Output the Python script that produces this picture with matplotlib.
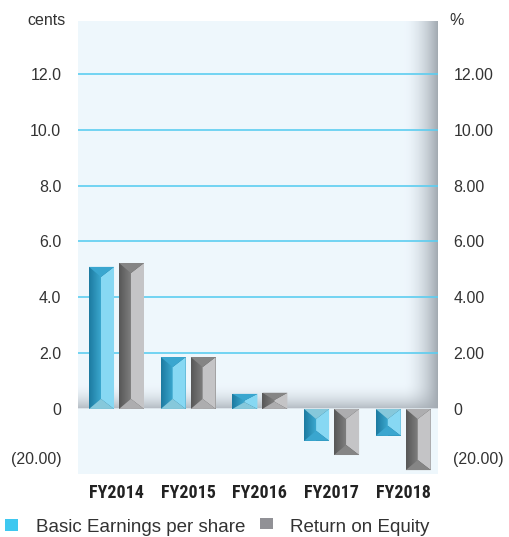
import numpy as np
import matplotlib
matplotlib.use("Agg")
import matplotlib.pyplot as plt
from matplotlib.patches import Polygon, Rectangle
from matplotlib import font_manager

years = ["FY2014", "FY2015", "FY2016", "FY2017", "FY2018"]
eps = [5.09, 1.86, 0.54, -1.14, -0.96]
roe = [5.23, 1.86, 0.58, -1.65, -2.19]
left_ticks = [-1.76, 0, 2, 4, 6, 8, 10, 12]
left_labels = ["(20.00)", "0", "2.0", "4.0", "6.0", "8.0", "10.0", "12.0"]
right_labels = ["(20.00)", "0", "2.00", "4.00", "6.00", "8.00", "10.00", "12.00"]
series_names = ["Basic Earnings per share", "Return on Equity"]


def pick_font(names):
    for n in names:
        try:
            font_manager.findfont(n, fallback_to_default=False)
            return n
        except ValueError:
            pass
    return "DejaVu Sans"


base_font = pick_font(["Liberation Sans", "Roboto"])
narrow_font = pick_font(["Liberation Sans Narrow", "Roboto Condensed", "Liberation Sans"])
plt.rcParams["font.family"] = [base_font, "DejaVu Sans"]

W, H = 510, 537
fig = plt.figure(figsize=(W / 100, H / 100), dpi=100)
ax = fig.add_axes([78 / W, 63 / H, 360 / W, 453 / H])
xmin, xmax, ymin, ymax = -0.537, 4.484, -2.33, 13.9
ax.set_xlim(xmin, xmax)
ax.set_ylim(ymin, ymax)

# panel background with floor and right wall shading
panel = np.array([0.937, 0.969, 0.992])
shade = np.array([0.64, 0.67, 0.70])
ny, nx = 400, 400
ys = np.linspace(ymax, ymin, ny)[:, None]
xs = np.linspace(xmin, xmax, nx)[None, :]
floor = np.clip(1 - ys / 0.95, 0, 1) ** 2 * 0.8
floor = np.where(ys >= 0, floor, 0)
wall = np.clip((xs - 4.0) / (xmax - 4.0), 0, 1) ** 1.8
wall = np.where(ys >= 0, wall, 0)
t = 1 - (1 - floor) * (1 - wall)
img = panel[None, None, :] * (1 - t[..., None]) + shade[None, None, :] * t[..., None]
ax.imshow(img, extent=[xmin, xmax, ymin, ymax], aspect="auto", zorder=0, interpolation="bilinear")

for g in [2, 4, 6, 8, 10, 12]:
    ax.axhline(g, color="#5ccdf0", lw=1.2, zorder=1)

styles = [
    dict(left=("#1c7aa0", "#3ba7ce"), top="#3aa6cf", face="#87d8f3", bottom="#86c8db"),
    dict(left=("#575757", "#7e7e7e"), top="#858585", face="#c4c4c6", bottom="#adadaf"),
]

x = np.arange(len(years))
bw = 0.349
off = 0.209
dx = 0.167
for si, (vals, st) in enumerate(zip([eps, roe], styles)):
    xc = x + (-off if si == 0 else off)
    bars = ax.bar(xc, vals, width=bw, color=st["left"][0], zorder=2, lw=0)
    grad = np.linspace(0, 1, 50)[None, :, None]
    c0 = np.array(matplotlib.colors.to_rgb(st["left"][0]))
    c1 = np.array(matplotlib.colors.to_rgb(st["left"][1]))
    gimg = c0 * (1 - grad) + c1 * grad
    for b, c, v in zip(bars, xc, vals):
        L, R = c - bw / 2, c + bw / 2
        s = 1 if v >= 0 else -1
        dy = min(0.36, abs(v) * 0.45) * s
        im = ax.imshow(gimg, extent=[L, L + dx, min(0, v), max(0, v)], aspect="auto", zorder=2.1)
        im.set_clip_path(b)
        # light front face, then the bevel triangles at both ends
        ax.add_patch(Polygon([(L + dx, v - dy), (R, v), (R, 0), (L + dx, dy)],
                             closed=True, color=st["face"], lw=0, zorder=2.2))
        ax.add_patch(Polygon([(L, v), (R, v), (L + dx, v - dy)],
                             closed=True, color=st["top"], lw=0, zorder=2.3))
        ax.add_patch(Polygon([(L, 0), (R, 0), (L + dx, dy)],
                             closed=True, color=st["bottom"], lw=0, zorder=2.3))

for sp in ax.spines.values():
    sp.set_visible(False)

ax.set_xticks(x)
ax.set_xticklabels(years, fontfamily=narrow_font, fontweight="bold", fontsize=13, color="#222222")
ax.tick_params(axis="x", length=0, pad=7)
ax.set_yticks(left_ticks)
ax.set_yticklabels(left_labels, fontsize=11.5, color="#333333")
ax.tick_params(axis="y", length=0, pad=12)

ax2 = ax.twinx()
ax2.set_ylim(ymin, ymax)
ax2.set_yticks(left_ticks)
ax2.set_yticklabels(right_labels, fontsize=11.5, color="#333333")
ax2.tick_params(axis="y", length=0, pad=11)
for sp in ax2.spines.values():
    sp.set_visible(False)

fig.text(66 / W, 1 - 25 / H, "cents", ha="right", va="baseline", fontsize=11.5, color="#333333")
fig.text(449 / W, 1 - 25 / H, "%", ha="left", va="baseline", fontsize=11.5, color="#333333")

# legend along the bottom edge
fig.patches.append(Rectangle((5 / W, 6 / H), 13 / W, 12 / H, transform=fig.transFigure,
                             color="#3ec8f0", lw=0))
fig.text(36 / W, 4.5 / H, series_names[0], ha="left", va="baseline", fontsize=13.5, color="#333333")
fig.patches.append(Rectangle((260 / W, 8 / H), 13 / W, 11 / H, transform=fig.transFigure,
                             color="#919196", lw=0))
fig.text(290 / W, 4.5 / H, series_names[1], ha="left", va="baseline", fontsize=13.5, color="#333333")

fig.savefig("out.png", dpi=100)
